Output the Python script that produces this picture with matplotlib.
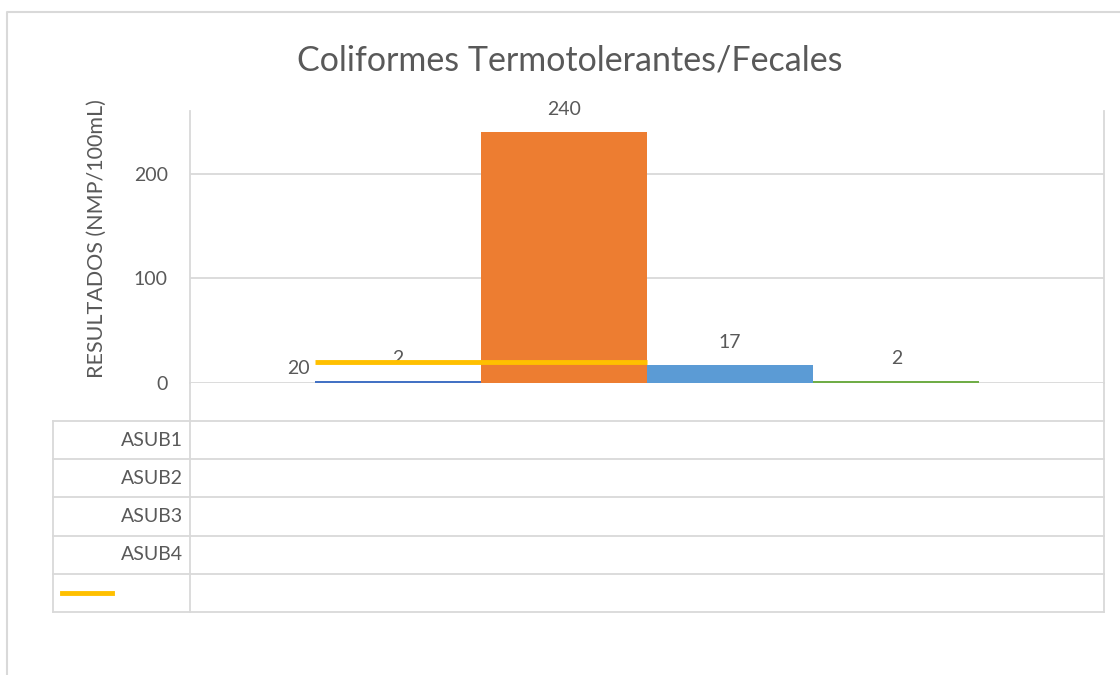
import matplotlib.pyplot as plt
from matplotlib.lines import Line2D

plt.rcParams['font.family'] = ['Lato', 'DejaVu Sans']

series = ['ASUB1', 'ASUB2', 'ASUB3', 'ASUB4']
values = [2, 240, 17, 2]
colors = ['#4472C4', '#ED7D31', '#5B9BD5', '#70AD47']
limit = 20
limit_color = '#FFC000'
yticks = [0, 100, 200]

txt = '#595959'
grid = '#D9D9D9'
fs = 14

W, H = 1120, 675
fig = plt.figure(figsize=(W / 100, H / 100), dpi=100)


def fx(px):
    return px / W


def fy(py):
    return 1 - py / H


# plot area
left, right, top, base = 190, 1104, 111, 383
ax = fig.add_axes([fx(left), fy(base), fx(right - left), (base - top) / H])
ax.set_xlim(-0.5, 0.5)
ax.set_ylim(0, 260)

n = len(values)
w = 1 / (n + 1.5)
pos = [(i - (n - 1) / 2) * w for i in range(n)]
bars = ax.bar(pos, values, width=w, color=colors, zorder=3)
for b, v in zip(bars, values):
    ax.annotate(str(v), (b.get_x() + b.get_width() / 2, v),
                xytext=(0, 14), textcoords='offset pixels',
                ha='center', va='bottom', fontsize=fs, color=txt)

# limit line
ax.hlines(limit, pos[0] - w / 2, pos[1] + w / 2, color=limit_color, lw=3.5, zorder=4)
ax.annotate(str(limit), (pos[0] - w / 2, limit), xytext=(-5, -6),
            textcoords='offset pixels', ha='right', va='center',
            fontsize=fs, color=txt)

ax.set_yticks(yticks)
ax.set_yticklabels([str(t) for t in yticks], fontsize=fs, color=txt)
ax.tick_params(axis='y', length=0, pad=16)
ax.set_xticks([])
ax.grid(axis='y', color=grid, lw=1.3, zorder=0)
for s in ['top', 'bottom']:
    ax.spines[s].set_visible(False)
for s in ['left', 'right']:
    ax.spines[s].set_color(grid)
    ax.spines[s].set_linewidth(1.3)
ax.set_ylabel('RESULTADOS (NMP/100mL)', fontsize=15.5, color=txt)
ax.yaxis.set_label_coords(-(190 - 107) / (right - left), (base - 239) / (base - top))

fig.text(fx(570), fy(60), 'Coliformes Termotolerantes/Fecales',
         ha='center', va='center', fontsize=24.5, color=txt)

# data table below
rows = [421, 459, 497, 536, 574, 612]
lc = dict(color=grid, lw=1.3, transform=fig.transFigure)
for r in rows:
    fig.add_artist(Line2D([fx(53), fx(right)], [fy(r), fy(r)], **lc))
fig.add_artist(Line2D([fx(53), fx(53)], [fy(rows[0]), fy(rows[-1])], **lc))
fig.add_artist(Line2D([fx(left), fx(left)], [fy(base), fy(rows[-1])], **lc))
fig.add_artist(Line2D([fx(right), fx(right)], [fy(base), fy(rows[-1])], **lc))
for i, name in enumerate(series):
    yc = (rows[i] + rows[i + 1]) / 2
    fig.text(fx(183), fy(yc), name, ha='right', va='center', fontsize=fs, color=txt)
yc = (rows[4] + rows[5]) / 2
fig.add_artist(Line2D([fx(62), fx(112)], [fy(yc), fy(yc)], color=limit_color, lw=3.5,
                      transform=fig.transFigure))

# chart border
fig.add_artist(Line2D([fx(7), fx(7), fx(W)], [0, fy(12), fy(12)], color=grid, lw=1.5,
                      transform=fig.transFigure))

plt.savefig('out.png', dpi=100)
